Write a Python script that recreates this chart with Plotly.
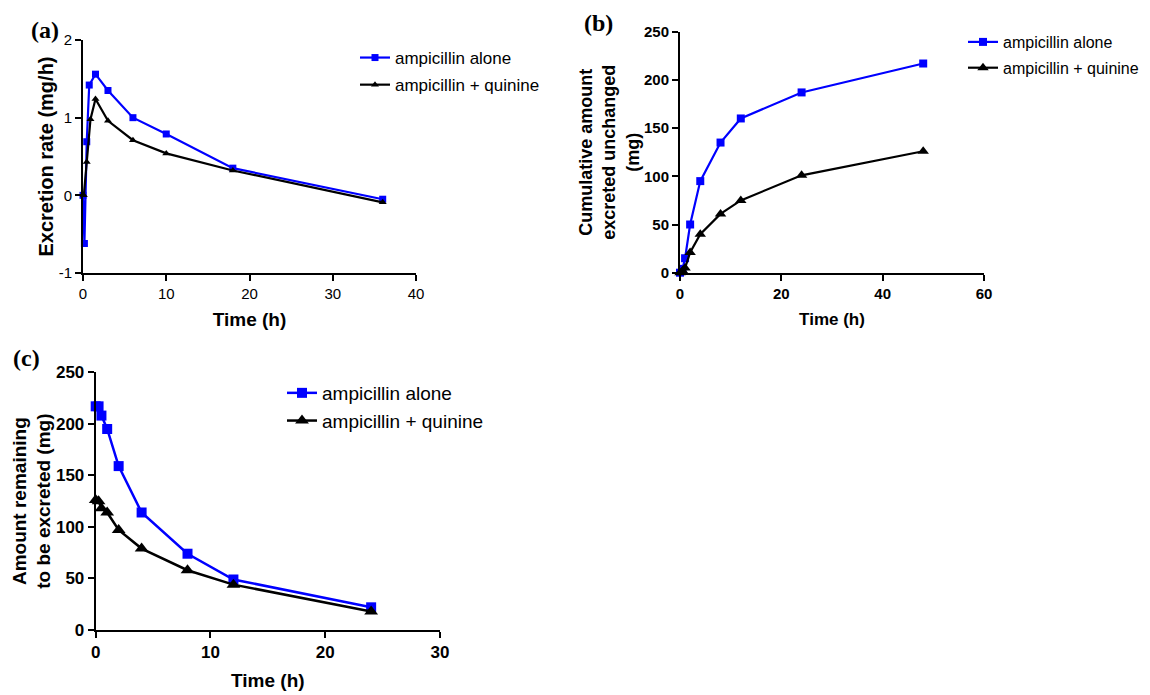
import plotly.graph_objects as go

# ---- Panel (a): excretion rate ----
a_alone_t = [0, 0.17, 0.45, 0.75, 1.5, 3, 6, 10, 18, 36]
a_alone_y = [0, -0.62, 0.69, 1.42, 1.56, 1.35, 1.0, 0.79, 0.35, -0.05]
a_quin_t = [0.1, 0.45, 0.9, 1.5, 3, 6, 10, 18, 36]
a_quin_y = [0, 0.43, 0.98, 1.24, 0.96, 0.71, 0.54, 0.32, -0.09]
a_ytick_vals = [-1, 0, 1, 2]
a_ytick_text = ["-1", "0", "1", "2"]

# ---- Panel (b): cumulative amount excreted ----
b_t = [0, 0.5, 1, 2, 4, 8, 12, 24, 48]
b_alone_y = [0, 4, 15, 50, 95, 135, 160, 187, 217]
b_quin_y = [0, 2, 5, 21, 40, 61, 75, 101, 126]

# ---- Panel (c): amount remaining to be excreted ----
c_t = [0, 0.25, 0.5, 1, 2, 4, 8, 12, 24]
c_alone_y = [217, 217, 208, 195, 159, 114, 74, 49, 22]
c_quin_y = [126, 125, 118, 114, 97, 79, 58, 44, 18]

names = ["ampicillin alone", "ampicillin + quinine"]
BLUE = "#0000FF"
BLACK = "#000000"
SANS = "Liberation Sans, Arial, sans-serif"

fig = go.Figure()

def add(x, y, name, color, symbol, size, xa, ya, leg, lw=2.2):
    fig.add_trace(go.Scatter(
        x=x, y=y, name=name, mode="lines+markers",
        line=dict(color=color, width=lw),
        marker=dict(color=color, symbol=symbol, size=size),
        xaxis=xa, yaxis=ya, legend=leg, legendgroup=leg + name,
        cliponaxis=False))

add(a_alone_t, a_alone_y, names[0], BLUE, "square", 7, "x", "y", "legend")
add(a_quin_t, a_quin_y, names[1], BLACK, "triangle-up", 7, "x", "y", "legend")
add(b_t, b_alone_y, names[0], BLUE, "square", 8, "x2", "y2", "legend2")
add(b_t, b_quin_y, names[1], BLACK, "triangle-up", 10, "x2", "y2", "legend2")
add(c_t, c_alone_y, names[0], BLUE, "square", 10, "x3", "y3", "legend3", 2.5)
add(c_t, c_quin_y, names[1], BLACK, "triangle-up", 12, "x3", "y3", "legend3", 2.5)

W, H = 1150, 695
OFF = 8  # page body margin
def px(v):
    return (v - OFF) / W
def py(v):
    return 1 - (v - OFF) / H

def axis(domain, rng, dtick, tickfont, title, titlefont, anchor, standoff):
    return dict(domain=domain, range=rng, dtick=dtick, tick0=0,
                showline=True, linecolor="black", linewidth=2,
                ticks="outside", ticklen=6, tickwidth=2, tickcolor="black",
                showgrid=False, zeroline=False, anchor=anchor, automargin=False,
                tickfont=tickfont,
                title=dict(text=title, font=titlefont, standoff=standoff))

fa_tick = dict(family=SANS, size=15, color="black")
fb_tick = dict(family=SANS, size=15, color="black", weight="bold")
fc_tick = dict(family=SANS, size=17, color="black", weight="bold")
def tf(s):
    return dict(family=SANS, size=s, color="black", weight="bold")

ya = axis([py(273), py(40)], [-1, 2], 1, fa_tick, "Excretion rate (mg/h)", tf(20), "x", 0)
ya.update(tickvals=a_ytick_vals, ticktext=a_ytick_text)

fig.update_layout(
    width=W, height=H, margin=dict(l=0, r=0, t=0, b=0),
    paper_bgcolor="white", plot_bgcolor="white",
    xaxis=axis([px(83), px(416)], [0, 40], 10, fa_tick, "Time (h)", tf(19), "y", 12),
    yaxis=ya,
    xaxis2=axis([px(680), px(984)], [0, 60], 20, fb_tick, "Time (h)", tf(17), "y2", 12),
    yaxis2=axis([py(272.7), py(31.7)], [0, 250], 50, fb_tick,
                "Cumulative amount<br>excreted unchanged<br>(mg)", tf(18), "x2", 0),
    xaxis3=axis([px(95.7), px(440)], [0, 30], 10, fc_tick, "Time (h)", tf(19), "y3", 12),
    yaxis3=axis([py(630), py(372.3)], [0, 250], 50, fc_tick,
                "Amount remaining<br>to be excreted (mg)", tf(19), "x3", 0),
    legend=dict(x=px(355), y=py(40), xanchor="left", yanchor="top",
                font=dict(family=SANS, size=17, color="black"),
                bgcolor="rgba(0,0,0,0)", tracegroupgap=2),
    legend2=dict(x=px(963), y=py(25), xanchor="left", yanchor="top",
                 font=dict(family=SANS, size=16, color="black"),
                 bgcolor="rgba(0,0,0,0)", tracegroupgap=2),
    legend3=dict(x=px(282), y=py(374), xanchor="left", yanchor="top",
                 font=dict(family=SANS, size=19, color="black"),
                 bgcolor="rgba(0,0,0,0)", tracegroupgap=0),
    showlegend=True,
)

labels = [("(a)", 29, 30, "middle"), ("(b)", 582, 8, "top"), ("(c)", 11, 358, "middle")]
for txt, x, y, anc in labels:
    fig.add_annotation(text=txt, x=px(x), y=py(y), xref="paper", yref="paper",
                       xanchor="left", yanchor=anc, showarrow=False,
                       font=dict(family="Liberation Serif, Times New Roman, serif",
                                 size=24, color="black", weight="bold"))

fig.write_html("out.html")
